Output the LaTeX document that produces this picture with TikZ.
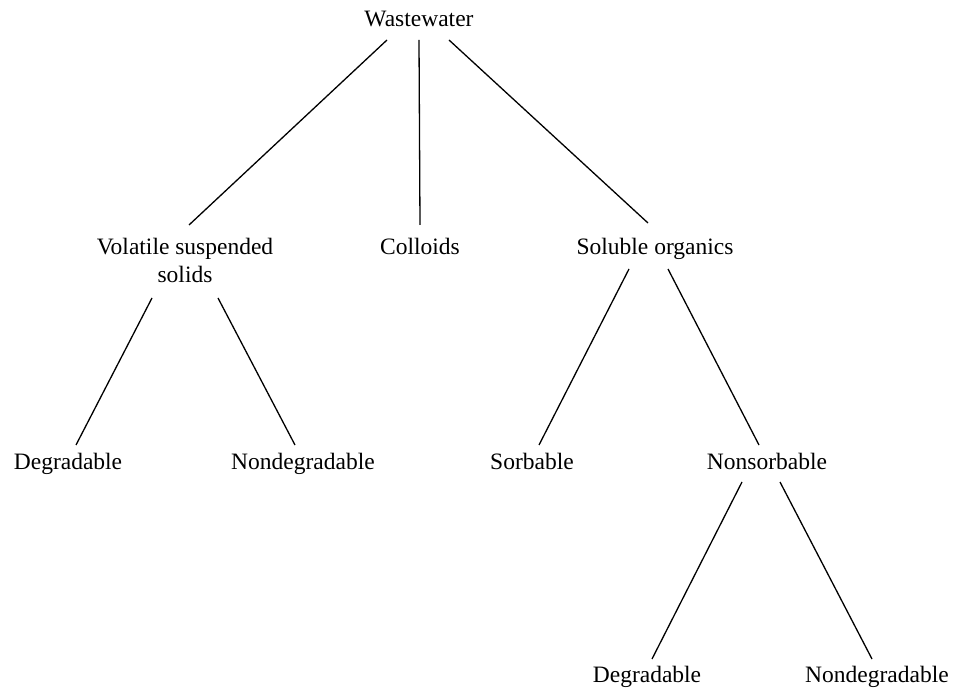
\documentclass[tikz,border=0pt]{standalone}
\usepackage{fontspec}
\setmainfont{Liberation Serif}
\begin{document}
\begin{tikzpicture}[x=1pt,y=-1pt,
  lbl/.style={anchor=base,inner sep=0pt,font=\fontsize{23.5}{28}\selectfont},
  conn/.style={line width=1.3pt,black}]
\useasboundingbox (0,0) rectangle (954,692);
\node[lbl] (ww) at (419,27) {Wastewater};
\node[lbl,align=center] (vss) at (185,283) {Volatile suspended\\solids};
\node[lbl] (coll) at (420,255) {Colloids};
\node[lbl] (so) at (655,255) {Soluble organics};
\node[lbl] (deg1) at (68,470) {Degradable};
\node[lbl] (nd1) at (303,470) {Nondegradable};
\node[lbl] (sorb) at (532,470) {Sorbable};
\node[lbl] (ns) at (767,470) {Nonsorbable};
\node[lbl] (deg2) at (647,682) {Degradable};
\node[lbl] (nd2) at (877,682) {Nondegradable};
\draw[conn] ([shift={(-32,13)}]ww.base) -- ([shift={(4,-58)}]vss.base);
\draw[conn] ([shift={(0,13)}]ww.base) -- ([shift={(0,-30)}]coll.base);
\draw[conn] ([shift={(30,13)}]ww.base) -- ([shift={(-7,-32)}]so.base);
\draw[conn] ([shift={(-33,15)}]vss.base) -- ([shift={(8,-25)}]deg1.base);
\draw[conn] ([shift={(33,15)}]vss.base) -- ([shift={(-8,-25)}]nd1.base);
\draw[conn] ([shift={(-26,14)}]so.base) -- ([shift={(7,-25)}]sorb.base);
\draw[conn] ([shift={(13,14)}]so.base) -- ([shift={(-8,-25)}]ns.base);
\draw[conn] ([shift={(-25,12)}]ns.base) -- ([shift={(5,-23)}]deg2.base);
\draw[conn] ([shift={(13,12)}]ns.base) -- ([shift={(-5,-23)}]nd2.base);
\end{tikzpicture}
\end{document}
